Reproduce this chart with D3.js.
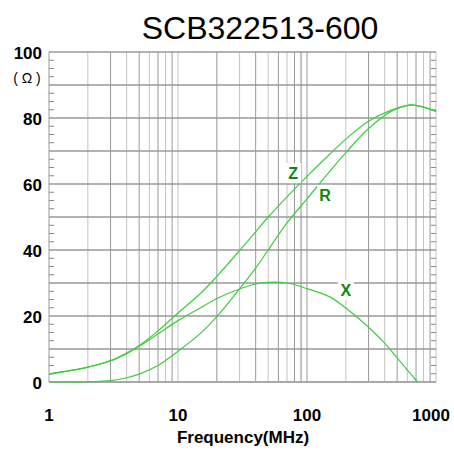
<!DOCTYPE html>
<html>
<head>
<meta charset="utf-8">
<script src="https://cdn.jsdelivr.net/npm/d3@7"></script>
<style>
  body { margin: 0; background: #fff; }
</style>
</head>
<body>
<div class="canvas"></div>
<script>
// frequency points (MHz)
const freq = [1, 2, 3, 4, 5, 7, 10, 15, 20, 30, 40, 50, 70, 100, 150, 200, 300, 450, 650, 1000];
const zVals = [2.4, 4.5, 6.5, 8.8, 11.1, 15.5, 20.9, 26.9, 32, 39.8, 45.5, 50, 56.1, 62.3, 69, 73.6, 79, 82.4, 84, 82];
const rVals = [0, 0.1, 0.4, 1.3, 2.4, 5.0, 9.3, 14.8, 19.8, 28.2, 34.5, 40, 48.2, 55.5, 63.8, 69.5, 76.8, 82, 83.9, 82];

const xFreq = [1, 2, 3, 4, 5, 7, 10, 15, 20, 30, 40, 50, 70, 100, 150, 200, 300, 400, 500, 600, 720];
const xVals = [2.4, 4.5, 6.4, 8.6, 10.8, 14.6, 18.6, 22.5, 25.3, 28.2, 29.7, 30.2, 30, 28.3, 25.8, 22.4, 16.6, 11.8, 7.3, 3.6, 0];

const xTicks = [1, 10, 100, 1000];
const yTicks = [0, 20, 40, 60, 80, 100];

// curve labels: [text, freq, value]
const curveLabels = [['Z', 78, 63.3], ['R', 138, 56.7], ['X', 200, 27.9]];

const svg = d3.select('.canvas').append('svg')
    .attr('width', 454)
    .attr('height', 450);

const x = d3.scaleLog().domain([1, 1000]).range([49, 436]);
const y = d3.scaleLinear().domain([0, 100]).range([382, 52]);

// vertical grid, every 1..9 of each decade
const vGrid = [];
for (let d = 1; d < 1000; d *= 10) {
  for (let k = 1; k < 10; k++) vGrid.push(d * k);
}
vGrid.push(1000);

svg.append('g')
  .selectAll('line')
  .data(vGrid)
  .join('line')
    .attr('x1', d => x(d))
    .attr('x2', d => x(d))
    .attr('y1', y(100))
    .attr('y2', y(0))
    .attr('stroke', (d, i) => (i % 2 === 0) ? '#999' : '#c4c4c4')
    .attr('stroke-width', d => d === 90 ? 2.2 : 1);

// horizontal grid every 10
svg.append('g')
  .selectAll('line')
  .data(d3.range(10, 101, 10))
  .join('line')
    .attr('x1', x(1))
    .attr('x2', x(1000))
    .attr('y1', d => y(d))
    .attr('y2', d => y(d))
    .attr('stroke', '#999')
    .attr('stroke-width', 1.3);

// minor ticks on both sides
const minor = d3.range(2.5, 100, 2.5).filter(v => v % 10 !== 0);
svg.append('g')
  .selectAll('line')
  .data(minor)
  .join('line')
    .attr('x1', x(1))
    .attr('x2', x(1) + 5)
    .attr('y1', d => y(d))
    .attr('y2', d => y(d))
    .attr('stroke', '#888');
svg.append('g')
  .selectAll('line')
  .data(minor)
  .join('line')
    .attr('x1', x(1000) - 5)
    .attr('x2', x(1000))
    .attr('y1', d => y(d))
    .attr('y2', d => y(d))
    .attr('stroke', '#888');

// bottom axis line
svg.append('line')
  .attr('x1', x(1)).attr('x2', x(1000))
  .attr('y1', y(0)).attr('y2', y(0))
  .attr('stroke', '#aaa')
  .attr('stroke-width', 2);

// curves
const line = d3.line()
  .x(d => x(d[0]))
  .y(d => y(d[1]))
  .curve(d3.curveCatmullRom.alpha(0.5));

const series = [d3.zip(freq, zVals), d3.zip(freq, rVals), d3.zip(xFreq, xVals)];
svg.append('g')
  .selectAll('path')
  .data(series)
  .join('path')
    .attr('d', line)
    .attr('fill', 'none')
    .attr('stroke', '#3fcc3f')
    .attr('stroke-width', 1.2);

// curve labels with white box
const lab = svg.append('g')
  .selectAll('g')
  .data(curveLabels)
  .join('g')
    .attr('transform', d => `translate(${x(d[1])},${y(d[2])})`);
lab.append('rect')
  .attr('x', -8).attr('y', -10)
  .attr('width', 16).attr('height', 20)
  .attr('fill', '#fff');
lab.append('text')
  .attr('text-anchor', 'middle')
  .attr('dy', '0.36em')
  .attr('fill', '#0a8a0a')
  .style('font-family', 'Liberation Sans, Arial')
  .style('font-weight', 'bold')
  .style('font-size', '16px')
  .text(d => d[0]);

// y tick labels
svg.append('g')
  .selectAll('text')
  .data(yTicks)
  .join('text')
    .attr('x', 42)
    .attr('y', d => y(d))
    .attr('dy', '0.42em')
    .attr('text-anchor', 'end')
    .attr('fill', '#000')
    .style('font-family', 'Liberation Sans, Arial')
    .style('font-weight', 'bold')
    .style('font-size', '17px')
    .text(d => d);

svg.append('text')
  .attr('x', 27)
  .attr('y', 83)
  .attr('text-anchor', 'middle')
  .style('font-family', 'Liberation Sans, Arial')
  .style('font-size', '14px')
  .text('( Ω )');

// x tick labels
svg.append('g')
  .selectAll('text')
  .data(xTicks)
  .join('text')
    .attr('x', d => x(d))
    .attr('dx', d => d === 1000 ? -5 : 0)
    .attr('y', 421)
    .attr('text-anchor', 'middle')
    .style('font-family', 'Liberation Sans, Arial')
    .style('font-weight', 'bold')
    .style('font-size', '17px')
    .text(d => d);

svg.append('text')
  .attr('x', 243)
  .attr('y', 443)
  .attr('text-anchor', 'middle')
  .style('font-family', 'Liberation Sans, Arial')
  .style('font-weight', 'bold')
  .style('font-size', '17px')
  .text('Frequency(MHz)');

svg.append('text')
  .attr('x', 260)
  .attr('y', 39)
  .attr('text-anchor', 'middle')
  .style('font-family', 'Liberation Sans, Arial')
  .style('font-size', '32px')
  .text('SCB322513-600');
</script>
</body>
</html>
